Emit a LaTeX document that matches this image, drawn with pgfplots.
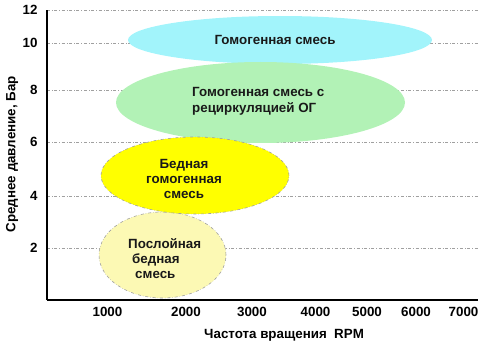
\documentclass[border=0pt]{standalone}
\usepackage{pgfplots}
\pgfplotsset{compat=1.18}
\usepackage{fontspec}
\setmainfont{Liberation Sans}
\definecolor{cyanfill}{HTML}{A2F4FB}
\definecolor{greenfill}{HTML}{B2F2B6}
\definecolor{yellowfill}{HTML}{FFFF00}
\definecolor{palefill}{HTML}{FCF9B4}
\definecolor{gridgray}{HTML}{A0A0A0}
\begin{document}
\begin{tikzpicture}
\begin{axis}[name=ax, scale only axis, width=431bp, height=290bp,
  xmin=47, xmax=478, ymin=0, ymax=290,
  axis x line=bottom, axis y line=left,
  axis line style={line width=1.3pt, -},
  xtick={107.5,186,252,315.5,367,416,463.5},
  xticklabels={1000,2000,3000,4000,5000,6000,7000},
  ytick={52,104,158,210,257,290},
  yticklabels={2,4,6,8,10,12},
  ymajorgrids, grid style={gridgray, dash dot, line width=0.5pt},
  major tick length=0pt,
  /pgf/number format/assume math mode=true,
  tick label style={font=\bfseries\fontsize{13.4}{15}\selectfont},
  xticklabel style={yshift=-4bp},
  yticklabel style={xshift=-6bp},
  every axis y label/.style={at={(axis description cs:-0.081,0.503)}, rotate=90, anchor=center, font=\bfseries\fontsize{13.4}{15}\selectfont},
  every axis x label/.style={at={(axis description cs:0.55,-0.12)}, anchor=center, font=\bfseries\fontsize{13.4}{15}\selectfont},
  xlabel={Частота вращения\ \ RPM},
  ylabel={Среднее давление, Бар},
  clip=false, axis on top=false]
% ellipses: centre (x,y), radii (rx,ry) in axis units
\fill[cyanfill] (axis cs:280,260) ellipse [x radius=152, y radius=24];
\fill[greenfill] (axis cs:260.5,197.5) ellipse [x radius=144.5, y radius=40.5];
\filldraw[fill=palefill, draw=gridgray, dash dot, line width=0.6pt] (axis cs:162.5,45) ellipse [x radius=63.5, y radius=43];
\filldraw[fill=yellowfill, draw=gridgray, dash dot, line width=0.6pt] (axis cs:195,124.5) ellipse [x radius=94, y radius=38.5];
\node[font=\bfseries\fontsize{13.4}{15}\selectfont, text=black!90] at (axis cs:275,260) {Гомогенная смесь};
\node[font=\bfseries\fontsize{13.4}{16}\selectfont, text=black!90, anchor=west, align=left, inner sep=0pt] at (axis cs:192,199) {Гомогенная смесь с\\рециркуляцией ОГ};
\node[font=\bfseries\fontsize{13.4}{15}\selectfont, text=black!90, align=center, inner sep=0pt] at (axis cs:184,121) {Бедная\\гомогенная\\смесь};
\node[font=\bfseries\fontsize{13.4}{15}\selectfont, text=black!90, anchor=west, align=left, inner sep=0pt] at (axis cs:128,41) {Послойная\\\hspace{4bp}бедная\\\hspace{7bp}смесь};
\end{axis}
\path[use as bounding box] ([shift={(-47bp,-58bp)}]ax.south west) rectangle ([shift={(22bp,10bp)}]ax.north east);
\end{tikzpicture}
\end{document}
